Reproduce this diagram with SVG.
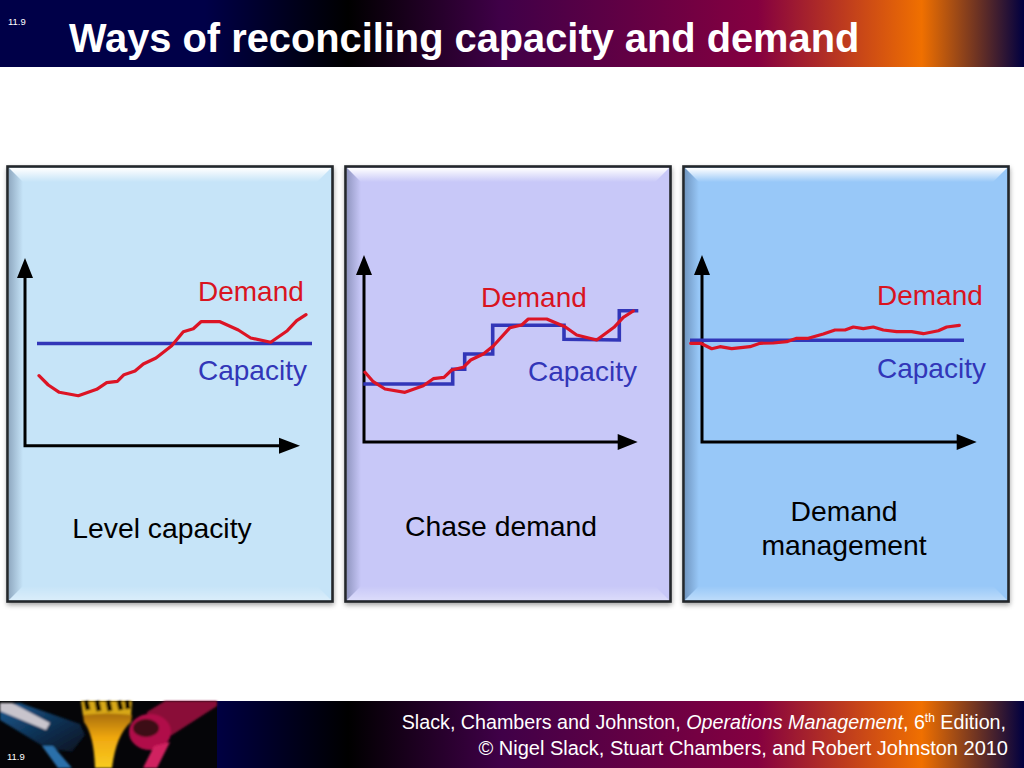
<svg xmlns="http://www.w3.org/2000/svg" width="1024" height="768" viewBox="0 0 1024 768">
<style>
.s{font-family:"Liberation Sans",Arial,sans-serif}
.d{fill:#d9141f;font-size:28px}
.c{fill:#3236b8;font-size:28px}
.k{fill:#000;font-size:28.300px;text-anchor:middle}
.dl{fill:none;stroke:#dc1425;stroke-width:3.2;stroke-linejoin:round;stroke-linecap:round}
.cl{fill:none;stroke:#3236b8;stroke-width:3.6}
.ax{fill:none;stroke:#000;stroke-width:3}
.hd{fill:#000}
.ft{fill:#fff;font-size:20px}
.fr{fill:none;stroke:#23272b;stroke-width:2.6}
</style>
<defs>
<linearGradient id="bar" gradientUnits="userSpaceOnUse" x1="0" x2="1024" y1="0" y2="0"><stop offset="0" stop-color="#000048"/><stop offset=".2" stop-color="#000048"/><stop offset=".34" stop-color="#000000"/><stop offset=".49" stop-color="#400048"/><stop offset=".74" stop-color="#850040"/><stop offset=".9" stop-color="#f07000"/><stop offset="1" stop-color="#000040"/></linearGradient>
<linearGradient id="topB" x1="0" x2="0" y1="0" y2="1"><stop offset="0" stop-color="#fff"/><stop offset="1" stop-color="#fff" stop-opacity="0"/></linearGradient>
<linearGradient id="leftB" x1="0" x2="1" y1="0" y2="0"><stop offset="0" stop-color="#203050" stop-opacity=".32"/><stop offset="1" stop-color="#203050" stop-opacity="0"/></linearGradient>
<linearGradient id="botB" x1="0" x2="0" y1="0" y2="1"><stop offset="0" stop-color="#fff" stop-opacity="0"/><stop offset="1" stop-color="#fff" stop-opacity=".35"/></linearGradient>
<linearGradient id="yel" x1="0" x2="0" y1="0" y2="1"><stop offset="0" stop-color="#a86e08"/><stop offset=".45" stop-color="#f0a810"/><stop offset="1" stop-color="#f8cc20"/></linearGradient>
<linearGradient id="blu" x1="0" x2="1" y1="0" y2="1"><stop offset="0" stop-color="#1c5a90"/><stop offset=".6" stop-color="#0c2c4c"/><stop offset="1" stop-color="#06121e"/></linearGradient>
<filter id="sh" x="-5%" y="-5%" width="110%" height="110%"><feGaussianBlur stdDeviation="2.5"/></filter>
<filter id="bl" x="-10%" y="-10%" width="120%" height="120%"><feGaussianBlur stdDeviation="0.9"/></filter>
</defs>
<rect width="1024" height="768" fill="#fff"/>
<g id="header">
<rect width="1024" height="67" fill="url(#bar)"/>
<text class="s" x="8" y="25" fill="#fff" font-size="9.500">11.9</text>
<text class="s" x="69" y="52" fill="#fff" font-size="39.800" font-weight="bold">Ways of reconciling capacity and demand</text>
</g>
<g id="panel-level">
<rect x="7" y="168" width="327" height="437" fill="#555" opacity=".55" filter="url(#sh)"/>
<rect x="7.500" y="166.500" width="325" height="435" fill="#c6e4f8"/>
<path d="M9 168H331L317 182H23Z" fill="url(#topB)"/>
<path d="M9 168L23 182V586L9 600Z" fill="url(#leftB)"/>
<path d="M23 586H317L331 600H9Z" fill="url(#botB)"/>
<rect class="fr" x="7.500" y="166.500" width="325" height="435"/>
<path class="ax" d="M25 272V445.700H285"/>
<path class="hd" d="M25 258L33 278H17ZM300 445.700L279 453.700V437.700Z"/>
<path class="cl" d="M37 343.500H312"/>
<path class="dl" d="M39 375.700L48.300 385L59.300 392.300L78.300 395.700L96.700 389.300L106.700 382.700L117.300 381.300L124 374.700L135 371L143.300 364L156 358L171.700 345.700L183.300 331.700L193.300 328.700L201 321.700L220 321.700L238.300 330L250.700 338L270.700 342.300L287.300 330.700L296.700 320.700L306 314.700"/>
<text class="s d" x="198" y="301">Demand</text>
<text class="s c" x="198" y="380">Capacity</text>
<text class="s k" x="162" y="538">Level capacity</text>
</g>
<g id="panel-chase">
<rect x="345" y="168" width="327" height="437" fill="#555" opacity=".55" filter="url(#sh)"/>
<rect x="345.500" y="166.500" width="325" height="435" fill="#c8c8f8"/>
<path d="M347 168H669L655 182H361Z" fill="url(#topB)"/>
<path d="M347 168L361 182V586L347 600Z" fill="url(#leftB)"/>
<path d="M361 586H655L669 600H347Z" fill="url(#botB)"/>
<rect class="fr" x="345.500" y="166.500" width="325" height="435"/>
<path class="ax" d="M364 269V442H623"/>
<path class="hd" d="M364 255L372 275H356ZM637.700 442L617.700 450V434Z"/>
<path class="cl" d="M363.300 384H452.700V369.300H464.700V354H492.700V325.300H564V339.300L619.300 340V310.700H638.300"/>
<path class="dl" d="M365 372.300L373.300 381.700L385 389L405 392.300L423.300 385.700L433.300 378.700L444 377.300L451.700 370L463.300 367.300L470.700 360L483.300 354L493.300 346L510 327.700L521.700 325L528.300 319L546.700 319L565 326.700L576.700 335L596.700 340L614 327.300L623.300 317.300L633.300 311"/>
<text class="s d" x="481" y="307">Demand</text>
<text class="s c" x="528" y="381">Capacity</text>
<text class="s k" x="501" y="536">Chase demand</text>
</g>
<g id="panel-management">
<rect x="683" y="168" width="327" height="437" fill="#555" opacity=".55" filter="url(#sh)"/>
<rect x="683.500" y="166.500" width="325" height="435" fill="#98c8f8"/>
<path d="M685 168H1007L993 182H699Z" fill="url(#topB)"/>
<path d="M685 168L699 182V586L685 600Z" fill="url(#leftB)"/>
<path d="M699 586H993L1007 600H685Z" fill="url(#botB)"/>
<rect class="fr" x="683.500" y="166.500" width="325" height="435"/>
<path class="ax" d="M702 269V442H962"/>
<path class="hd" d="M702 255L710 275H694ZM976.700 442L956.700 450V434Z"/>
<path class="cl" d="M690 340.300H964"/>
<path class="dl" d="M690.700 343.300L700.700 343.300L711.700 348.700L720 346.700L731.700 348.700L750 346.700L760 343.300L773.300 343L786.700 341.700L796.700 338.300L808.300 338.300L823.300 334L835 330L845 330L853.300 327L863.300 328.700L873.300 327L883.300 330L896.700 331.700L911.700 331.700L923.300 333.700L938.300 330.700L946.700 327L959.300 325.300"/>
<text class="s d" x="877" y="305">Demand</text>
<text class="s c" x="877" y="378">Capacity</text>
<text class="s k" x="844" y="521">Demand</text>
<text class="s k" x="844" y="555">management</text>
</g>
<g id="footer">
<rect y="701" width="1024" height="67" fill="url(#bar)"/>
<rect y="701" width="217" height="67" fill="#050508"/>
<g filter="url(#bl)">
<path d="M0 704L20 703L80 724L85 735L72 752L46 748L0 720Z" fill="url(#blu)"/>
<path d="M0 703L12 703L50 723L46 730L0 711Z" fill="#c8c4cc"/>
<path d="M42 746L53 746L72 768H58Z" fill="#2a70aa"/>
<path d="M81 701H132L131 716H83Z" fill="#d8a818"/>
<path d="M86 701L88 710M97 701L99 711M108 701L110 711M119 701L121 710M127 701L128 709" stroke="#181004" stroke-width="5" fill="none"/>
<path d="M83 715Q108 712 132 715L131 722Q116 735 112 768H95Q94 735 84 722Z" fill="url(#yel)"/>
<path d="M147 712L165 701H217V706L172 735L150 740Z" fill="#8a1038"/>
<ellipse cx="150" cy="732" rx="21" ry="18" fill="#b01048"/>
<ellipse cx="146" cy="728" rx="13" ry="9" fill="#3c0a14"/>
<path d="M154 746L170 742L157 768H143Z" fill="#d02060"/>
</g>
<text class="s" x="7" y="760" fill="#fff" font-size="9.500">11.9</text>
<text class="s ft" x="1006" y="729" text-anchor="end" style="font-size:19.700px">Slack, Chambers and Johnston, <tspan font-style="italic">Operations Management</tspan>, 6<tspan style="font-size:12px" dy="-7">th</tspan><tspan dy="7"> Edition,</tspan></text>
<text class="s ft" x="1008" y="755" text-anchor="end">© Nigel Slack, Stuart Chambers, and Robert Johnston 2010</text>
</g>
</svg>
